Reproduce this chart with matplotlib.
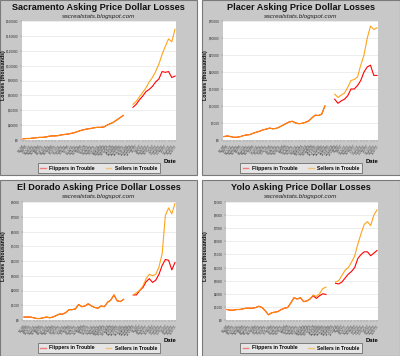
import matplotlib
matplotlib.use("Agg")
import matplotlib.pyplot as plt
from matplotlib.patches import Rectangle
from matplotlib.ticker import FuncFormatter, MultipleLocator

# ---------------- data (values in thousands of the tick unit) ----------------
dates = ["5/1/06", "5/8/06", "5/15/06", "5/22/06", "5/29/06", "6/5/06", "6/12/06", "6/19/06",
         "6/26/06", "7/3/06", "7/10/06", "7/17/06", "7/24/06", "7/31/06", "8/7/06", "8/14/06",
         "8/21/06", "8/28/06", "9/4/06", "9/11/06", "9/18/06", "9/25/06", "10/2/06", "10/9/06",
         "10/16/06", "10/23/06", "10/30/06", "11/6/06", "11/13/06", "11/20/06", "11/27/06", "12/4/06",
         "12/11/06", "12/18/06", "12/25/06", "1/1/07", "1/8/07", "1/15/07", "1/22/07", "1/29/07",
         "2/5/07", "2/12/07", "2/19/07", "2/26/07", "3/5/07", "3/12/07", "3/19/07", "3/26/07"]

N = None
sac_flippers = [1.5, 2, 2, 2.5, 3, 3.5, 3.5, 4, 5, 5.5, 5.5, 6, 7, 7.5, 8, 9,
                10, 11.5, 13, 14, 15, 15.5, 16.5, 17, 17, 17.5, 20, 22, 24, 27, 30, 33,
                N, N, 44, 48, 54, 59, 65, 68, 72, 78, 82, 92, 91, 92, 84, 86]
sac_sellers = [1.5, 2, 2, 2.5, 3, 3.5, 3.5, 4, 5, 5.5, 5.5, 6, 7, 7.5, 8, 9,
               10, 11.5, 13, 14, 15, 15.5, 16.5, 17, 17, 17.5, 20, 22, 24, 27, 30, 33,
               N, N, 48, 52, 58, 64, 70, 78, 84, 92, 102, 115, 126, 136, 132, 149]

pla_flippers = [1.0, 1.2, 1.0, 0.8, 0.8, 1.0, 1.3, 1.5, 1.6, 2.0, 2.3, 2.6, 3.0, 3.2, 3.5, 3.3,
                3.4, 3.8, 4.3, 4.8, 5.3, 5.5, 5.0, 4.8, 4.9, 5.2, 5.6, 6.5, 7.3, 7.2, 7.6, 10.0,
                N, N, 12.0, 10.8, 11.5, 12.0, 13.0, 15.0, 15.0, 16.0, 17.5, 20.0, 21.5, 22.0, 19.0, 19.0]
pla_sellers = [1.0, 1.2, 1.0, 0.8, 0.8, 1.0, 1.3, 1.5, 1.6, 2.0, 2.3, 2.6, 3.0, 3.2, 3.5, 3.3,
               3.4, 3.8, 4.3, 4.8, 5.3, 5.5, 5.0, 4.8, 4.9, 5.2, 5.6, 6.5, 7.3, 7.2, 7.6, 10.0,
               N, N, 13.5, 12.5, 13.2, 13.8, 15.5, 17.5, 17.8, 18.5, 22.0, 25.0, 30.0, 33.5, 32.5, 33.0]

eld_flippers = [0.2, 0.2, 0.2, 0.15, 0.1, 0.1, 0.15, 0.2, 0.15, 0.2, 0.3, 0.4, 0.4, 0.5, 0.7, 0.7,
                0.75, 1.05, 0.9, 0.95, 1.1, 0.95, 0.85, 0.8, 0.95, 0.9, 1.2, 1.35, 1.7, 1.3, 1.25, 1.4,
                N, N, 1.7, 1.7, 2.0, 2.2, 2.6, 2.8, 2.55, 2.7, 3.1, 3.7, 4.1, 4.05, 3.4, 3.9]
eld_sellers = [0.2, 0.2, 0.2, 0.15, 0.1, 0.1, 0.15, 0.2, 0.15, 0.2, 0.3, 0.4, 0.4, 0.5, 0.7, 0.7,
               0.75, 1.05, 0.9, 0.95, 1.1, 0.95, 0.85, 0.8, 0.95, 0.9, 1.2, 1.35, 1.7, 1.3, 1.25, 1.4,
               N, N, 1.7, 1.85, 2.0, 2.3, 2.8, 3.1, 3.0, 3.1, 3.6, 4.5, 7.1, 7.6, 7.2, 7.9]

yol_flippers = [0.8, 0.75, 0.75, 0.8, 0.8, 0.85, 0.9, 0.9, 0.9, 0.95, 1.05, 0.95, 0.7, 0.4, 0.55, 0.6,
                0.65, 0.8, 0.9, 0.95, 1.3, 1.7, 1.6, 1.7, 1.4, 1.45, 1.6, 1.85, 1.65, 1.85, 2.0, 1.95,
                N, N, 2.8, 2.75, 2.9, 3.2, 3.5, 3.7, 4.0, 4.7, 5.0, 5.2, 5.2, 4.9, 5.1, 5.3]
yol_sellers = [0.8, 0.75, 0.75, 0.8, 0.8, 0.85, 0.9, 0.9, 0.9, 0.95, 1.05, 0.95, 0.7, 0.4, 0.55, 0.6,
               0.65, 0.8, 0.9, 0.95, 1.3, 1.7, 1.6, 1.7, 1.4, 1.45, 1.6, 1.9, 1.8, 2.0, 2.4, 2.5,
               N, N, 2.9, 3.0, 3.4, 3.8, 4.0, 4.4, 4.9, 5.8, 6.6, 7.3, 7.5, 7.2, 8.0, 8.4]

titles = ["Sacramento Asking Price Dollar Losses", "Placer Asking Price Dollar Losses",
          "El Dorado Asking Price Dollar Losses", "Yolo Asking Price Dollar Losses"]
subtitle = "sacrealstats.blogspot.com"
series_names = ["Flippers in Trouble", "Sellers in Trouble"]
ymax = [160, 35, 8, 9]
ystep = [20, 5, 1, 1]

panels = [(sac_flippers, sac_sellers), (pla_flippers, pla_sellers),
          (eld_flippers, eld_sellers), (yol_flippers, yol_sellers)]

# ---------------- layout ----------------
W, H = 400, 356
fig = plt.figure(figsize=(W / 100, H / 100), dpi=100)
fig.patch.set_facecolor("white")
FONT = "Liberation Sans"

panel_px = [(0, 0, 197, 175), (202, 0, 400, 175), (0, 180, 197, 356), (202, 180, 400, 356)]
axes_px = [(22, 21, 176, 140), (223, 21, 378, 140), (23, 202, 176, 320), (226, 202, 378, 320)]

def fx(x):
    return x / W

def fy(y):
    return 1 - y / H

FLIP_C = "#ff0000"
SELL_C = "#ff9900"

for k in range(4):
    px0, py0, px1, py1 = panel_px[k]
    fig.patches.append(Rectangle((fx(px0), fy(py1)), fx(px1) - fx(px0), fy(py0) - fy(py1),
                                 transform=fig.transFigure, facecolor="#c8c8c8",
                                 edgecolor="#7a7a7a", linewidth=0.8, zorder=-5))
    ax0, ay0, ax1, ay1 = axes_px[k]
    ax = fig.add_axes([fx(ax0), fy(ay1), fx(ax1) - fx(ax0), fy(ay0) - fy(ay1)])
    ax.set_zorder(2)
    ax.set_facecolor("white")
    fl, se = panels[k]
    xs = list(range(len(dates)))
    ax.plot(xs, [v if v is not None else float("nan") for v in fl], color=FLIP_C, lw=0.8, zorder=3)
    ax.plot(xs, [v if v is not None else float("nan") for v in se], color=SELL_C, lw=0.8, alpha=0.9, zorder=4)
    ax.set_xlim(-0.3, len(dates) - 0.7)
    ax.set_ylim(0, ymax[k])
    ax.yaxis.set_major_locator(MultipleLocator(ystep[k]))
    ax.yaxis.set_major_formatter(FuncFormatter(lambda v, p: "$%d" % round(v * 1000)))
    ax.grid(axis="y", color="#e6e6e6", lw=0.5)
    ax.set_axisbelow(True)
    for s in ax.spines.values():
        s.set_visible(False)
    ax.tick_params(axis="y", labelsize=2.3, labelcolor="#333333", length=1.5, width=0.3,
                   color="#888888", pad=1)
    ax.set_xticks(xs)
    ax.set_xticklabels(dates, rotation=55, ha="right", rotation_mode="anchor",
                       fontsize=2.4, color="#444444", fontfamily=FONT)
    ax.tick_params(axis="x", length=1.5, width=0.3, color="#888888", pad=1)
    for lab in ax.get_yticklabels():
        lab.set_fontfamily(FONT)

    cx = (px0 + px1) / 2
    fig.text(fx(cx), fy(py0 + 7), titles[k], ha="center", va="center", fontsize=6.6,
             fontweight="bold", fontfamily=FONT, color="#111111")
    fig.text(fx(cx), fy(py0 + 16.5), subtitle, ha="center", va="center", fontsize=4.6,
             style="italic", fontfamily=FONT, color="#222222")
    fig.text(fx(px0 + 4), fy((ay0 + ay1) / 2 - 5), "Losses (thousands)", rotation=90,
             ha="center", va="center", fontsize=3.8, fontweight="bold", fontfamily=FONT)
    fig.text(fx(ax1 - 6), fy(py0 + 161), "Date", ha="center", va="center", fontsize=4.2,
             fontweight="bold", fontfamily=FONT)

    h1, = ax.plot([], [], color=FLIP_C, lw=1.0, alpha=0.45)
    h2, = ax.plot([], [], color=SELL_C, lw=1.0, alpha=0.45)
    leg = ax.legend([h1, h2], series_names, loc="center",
                    bbox_to_anchor=(fx(cx), fy(py0 + 168)), bbox_transform=fig.transFigure,
                    ncol=2, frameon=True, fancybox=False, handlelength=1.1,
                    columnspacing=2.2, handletextpad=0.7, borderpad=0.5,
                    prop={"family": FONT, "weight": "bold", "size": 3.6})
    leg.get_frame().set_facecolor("#ededed")
    leg.get_frame().set_edgecolor("#555555")
    leg.get_frame().set_linewidth(0.6)

fig.savefig("out.png", dpi=100, facecolor="white")
